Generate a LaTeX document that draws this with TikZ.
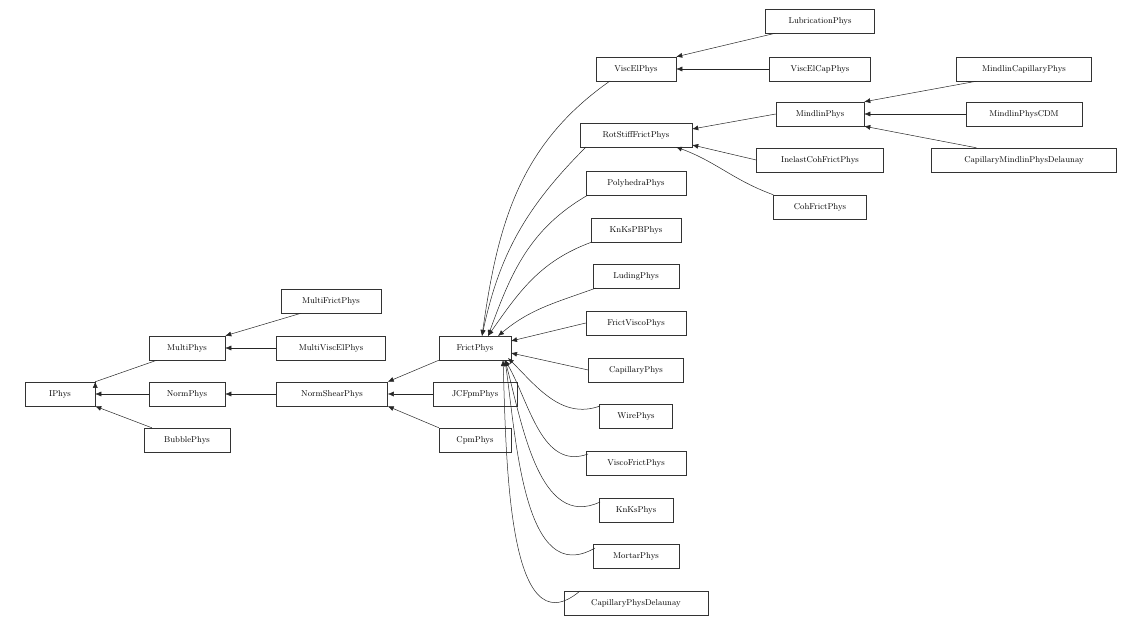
\documentclass[tikz,border=0pt]{standalone}
\usetikzlibrary{arrows.meta}
\begin{document}
\begin{tikzpicture}[x=1pt,y=-1pt,
  box/.style={draw=black!80,line width=0.5pt,rectangle,minimum height=24pt,inner xsep=0pt,font=\fontsize{8.5}{10}\selectfont},
  arr/.style={draw=black!85,line width=0.5pt,-{Latex[length=6pt,width=5pt]}}]
\useasboundingbox (0,0) rectangle (1142,626);
\newcommand\bx[4]{\node[box,minimum width=#4pt] (#1) at (#2) {#3};}
\bx{IPhys}{60,394}{IPhys}{70}
\bx{MultiPhys}{187,348}{MultiPhys}{76}
\bx{NormPhys}{187,394}{NormPhys}{76}
\bx{BubblePhys}{187,440}{BubblePhys}{86}
\bx{MultiFrictPhys}{331,301}{MultiFrictPhys}{100}
\bx{MultiViscElPhys}{331,348}{MultiViscElPhys}{109}
\bx{NormShearPhys}{332,394}{NormShearPhys}{111}
\bx{FrictPhys}{475,348}{FrictPhys}{72}
\bx{JCFpmPhys}{475,394}{JCFpmPhys}{84}
\bx{CpmPhys}{475,440}{CpmPhys}{72}
\bx{ViscElPhys}{636,69}{ViscElPhys}{80}
\bx{RotStiff}{636,135}{RotStiffFrictPhys}{112}
\bx{Polyhedra}{636,183}{PolyhedraPhys}{100}
\bx{KnKsPB}{636,230}{KnKsPBPhys}{90}
\bx{Luding}{636,276}{LudingPhys}{86}
\bx{FrictVisco}{636,323}{FrictViscoPhys}{100}
\bx{Capillary}{636,370}{CapillaryPhys}{95}
\bx{Wire}{636,416}{WirePhys}{73}
\bx{ViscoFrict}{636,463}{ViscoFrictPhys}{100}
\bx{KnKs}{636,510}{KnKsPhys}{74}
\bx{Mortar}{636,556}{MortarPhys}{86}
\bx{CapDel}{636,603}{CapillaryPhysDelaunay}{144}
\bx{Lubrication}{820,21}{LubricationPhys}{109}
\bx{ViscElCap}{820,69}{ViscElCapPhys}{101}
\bx{Mindlin}{820,114}{MindlinPhys}{88}
\bx{Inelast}{820,160}{InelastCohFrictPhys}{127}
\bx{CohFrict}{820,207}{CohFrictPhys}{93}
\bx{MindCap}{1024,69}{MindlinCapillaryPhys}{135}
\bx{MindCDM}{1024,114}{MindlinPhysCDM}{116}
\bx{CapMind}{1024,160}{CapillaryMindlinPhysDelaunay}{185}
% left part
\draw[arr] (MultiPhys.south west)++(8,0) -- (IPhys.north east)++(-0,0);
\draw[arr] (NormPhys) -- (IPhys);
\draw[arr] (BubblePhys.north west)++(8,0) -- (IPhys.south east);
\draw[arr] (MultiFrictPhys.south) ++(-30,0) -- (MultiPhys.north east);
\draw[arr] (MultiViscElPhys) -- (MultiPhys);
\draw[arr] (NormShearPhys) -- (NormPhys);
\draw[arr] (FrictPhys.south west) -- (NormShearPhys.north east);
\draw[arr] (JCFpmPhys) -- (NormShearPhys);
\draw[arr] (CpmPhys.north west) -- (NormShearPhys.south east);
% FrictPhys children
\coordinate (f1) at (482,336);
\coordinate (f2) at (488,336);
\coordinate (f3) at (498,336);
\coordinate (f4) at (505,360);
\draw[arr] (610,81) to[out=215,in=82] (f1);
\draw[arr] (586,147) to[out=225,in=78] (f1);
\draw[arr] (588,195) to[out=210,in=70] (f2);
\draw[arr] (592,242) to[out=200,in=55] (f2);
\draw[arr] (596,288) to[out=200,in=40] (f3);
\draw[arr] (FrictVisco.west) -- (511,341);
\draw[arr] (Capillary.west) -- (511,353);
\draw[arr] (600,406) to[out=200,in=-45] (508,358);
\draw[arr] (588,454) to[out=200,in=-60] (f4);
\draw[arr] (600,502) to[out=205,in=-75] (f4);
\draw[arr] (595,548) to[out=210,in=-82] (f4);
\draw[arr] (580,591) to[out=220,in=-88] (503,360);
% right part
\draw[arr] (Lubrication.south west)++(10,0) -- (ViscElPhys.north east);
\draw[arr] (ViscElCap) -- (ViscElPhys);
\draw[arr] (Mindlin.west) -- (RotStiff.east |- 0,129);
\draw[arr] (Inelast.west) -- (RotStiff.east |- 0,145);
\draw[arr] (CohFrict.north west) to[out=160,in=-20] (676,147);
\draw[arr] (MindCap.south west)++(20,0) -- (Mindlin.north east);
\draw[arr] (MindCDM) -- (Mindlin);
\draw[arr] (CapMind.north west)++(45,0) -- (Mindlin.south east);
\end{tikzpicture}
\end{document}
